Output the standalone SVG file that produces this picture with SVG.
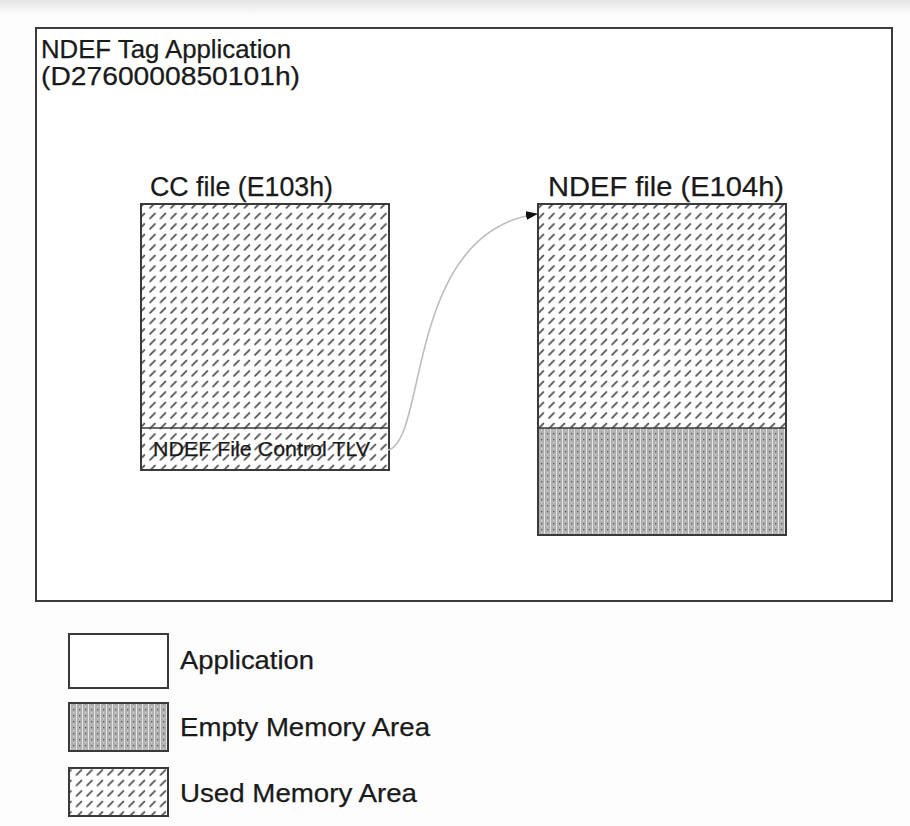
<svg xmlns="http://www.w3.org/2000/svg" width="910" height="826" viewBox="0 0 910 826">
  <defs>
    <linearGradient id="topband" x1="0" y1="0" x2="0" y2="1">
      <stop offset="0" stop-color="#e4e4e4"/>
      <stop offset="1" stop-color="#fbfbfb"/>
    </linearGradient>
    <!-- short slanted dashes: used memory -->
    <pattern id="used" width="10.5" height="10.5" patternUnits="userSpaceOnUse">
      <rect width="10.5" height="10.5" fill="#ffffff"/>
      <line x1="3" y1="8.5" x2="8" y2="3.5" stroke="#4a4a4a" stroke-width="1.7" stroke-linecap="round"/>
    </pattern>
    <!-- dotted grey screen: empty memory -->
    <pattern id="empty" width="6" height="6" patternUnits="userSpaceOnUse">
      <rect width="6" height="6" fill="#b0b0b0"/>
      <rect x="4" y="0" width="1" height="6" fill="#e4e4e4"/>
      <rect x="1" y="1" width="1.3" height="1.3" fill="#5e5e5e"/>
      <rect x="1" y="4" width="1.2" height="1.2" fill="#d4d4d4"/>
    </pattern>
    <marker id="arrow" markerWidth="12" markerHeight="9" refX="11" refY="4.5" orient="auto" markerUnits="userSpaceOnUse">
      <path d="M0,0 L12,4.5 L0,9 Z" fill="#111"/>
    </marker>
    <style>
      .t { font-family: "Liberation Sans", Arial, sans-serif; fill: #1a1a1a; stroke: #1a1a1a; stroke-width: 0.25; }
      .frame { fill: #fff; stroke: #3c3c3c; stroke-width: 2; }
      .box { stroke: #3a3a3a; stroke-width: 2; }
    </style>
  </defs>

  <rect width="910" height="826" fill="#fdfdfd"/>
  <rect width="910" height="14" fill="url(#topband)"/>

  <g id="application">
    <rect class="frame" x="36" y="28" width="856" height="573"/>
    <text class="t" x="41" y="58" font-size="25" textLength="250" lengthAdjust="spacingAndGlyphs">NDEF Tag Application</text>
    <text class="t" x="41" y="85" font-size="25" textLength="259" lengthAdjust="spacingAndGlyphs">(D2760000850101h)</text>
  </g>

  <g id="cc-file">
    <text class="t" x="150" y="196" font-size="27" textLength="183" lengthAdjust="spacingAndGlyphs">CC file (E103h)</text>
    <rect class="box" x="141" y="204" width="248" height="266" fill="url(#used)"/>
    <line x1="141" y1="428" x2="389" y2="428" stroke="#3a3a3a" stroke-width="1.5"/>
    <text class="t" x="153" y="456" font-size="21" textLength="217" lengthAdjust="spacingAndGlyphs">NDEF File Control TLV</text>
  </g>

  <g id="ndef-file">
    <text class="t" x="548" y="196" font-size="27" textLength="236" lengthAdjust="spacingAndGlyphs">NDEF file (E104h)</text>
    <rect x="538" y="204" width="248" height="224" fill="url(#used)"/>
    <rect x="538" y="428" width="248" height="107" fill="url(#empty)"/>
    <rect class="box" x="538" y="204" width="248" height="331" fill="none"/>
    <line x1="538" y1="428" x2="786" y2="428" stroke="#3a3a3a" stroke-width="1.5"/>
  </g>

  <g id="connectors">
    <path d="M388,450 C428,440 405,232 537,214" fill="none" stroke="#bdbdbd" stroke-width="1.6" marker-end="url(#arrow)"/>
  </g>

  <g id="legend">
    <g id="legend-application">
      <rect class="box" x="69" y="634" width="99" height="54" fill="#fff"/>
      <text class="t" x="180" y="669" font-size="26" textLength="134" lengthAdjust="spacingAndGlyphs">Application</text>
    </g>
    <g id="legend-empty">
      <rect class="box" x="69" y="703" width="99" height="48" fill="url(#empty)"/>
      <text class="t" x="180" y="736" font-size="26" textLength="250" lengthAdjust="spacingAndGlyphs">Empty Memory Area</text>
    </g>
    <g id="legend-used">
      <rect class="box" x="69" y="768" width="99" height="48" fill="url(#used)"/>
      <text class="t" x="180" y="802" font-size="26" textLength="237" lengthAdjust="spacingAndGlyphs">Used Memory Area</text>
    </g>
  </g>
</svg>
